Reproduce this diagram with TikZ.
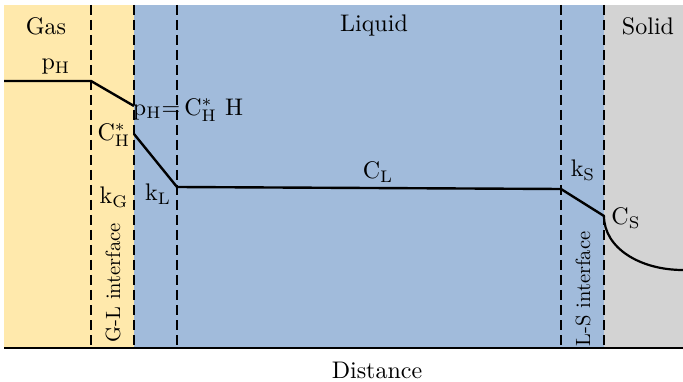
\documentclass[tikz,border=0pt]{standalone}
\usepackage{amsmath}
\definecolor{gasc}{HTML}{FFE9AC}
\definecolor{liqc}{HTML}{A1BBDB}
\definecolor{solc}{HTML}{D3D3D3}
\begin{document}
\begin{tikzpicture}[x=1pt,y=-1pt,
  lbl/.style={inner sep=0pt,scale=2.4,transform shape},
  vlbl/.style={inner sep=0pt,scale=2.06,rotate=90,transform shape},
  divider/.style={line width=1.8pt,dash pattern=on 10pt off 5pt},
  profile/.style={line width=2.4pt,line join=round}]
\useasboundingbox (0,0) rectangle (683,382);
\fill[gasc] (4,5) rectangle (134,348);
\fill[liqc] (134,5) rectangle (604,348);
\fill[solc] (604,5) rectangle (683,348);
\foreach \x/\n in {91/d1,134/d2,177/d3,561/d4,604/d5}{
  \coordinate (\n t) at (\x,5);
  \coordinate (\n b) at (\x,348);
  \draw[divider] (\n t) -- (\n b);
}
\coordinate (axl) at (4,348);
\coordinate (axr) at (683,348);
\draw[line width=2.6pt] (axl) -- (axr);
\node[lbl] (dist) at (377,370) {Distance};
\node[lbl] (gas) at (46,26) {Gas};
\node[lbl] (liq) at (374,26) {Liquid};
\node[lbl] (sol) at (648,26) {Solid};
% profile
\coordinate (g0) at (4,81);
\coordinate (g1) at (91,81);
\coordinate (g2) at (134,106);
\coordinate (l0) at (134,134);
\coordinate (l1) at (177,187);
\coordinate (l2) at (561,189);
\coordinate (l3) at (604,216);
\coordinate (s1) at (683,270);
\draw[profile] (g0) -- (g1) -- (g2);
\draw[profile] (l0) -- (l1) -- (l2) -- (l3);
\draw[line width=2.2pt] (l3) .. controls (604,248) and (640,270) .. (s1);
\node[lbl] (pH) at (56,67) {p$_\mathrm{H}$};
\node[lbl] (eq) at (188,110) {p$_\mathrm{H}$=\,C$^*_\mathrm{H}$ H};
\node[lbl] (CH) at (114,135) {C$^*_\mathrm{H}$};
\node[lbl] (kG) at (114,197) {k$_\mathrm{G}$};
\node[lbl] (kL) at (158,194) {k$_\mathrm{L}$};
\node[lbl] (CL) at (378,172) {C$_\mathrm{L}$};
\node[lbl] (kS) at (583,170) {k$_\mathrm{S}$};
\node[lbl] (CS) at (626,218) {C$_\mathrm{S}$};
\node[vlbl] (gl) at (113,283) {G-L interface};
\node[vlbl] (ls) at (583,289) {L-S interface};
\end{tikzpicture}
\end{document}
